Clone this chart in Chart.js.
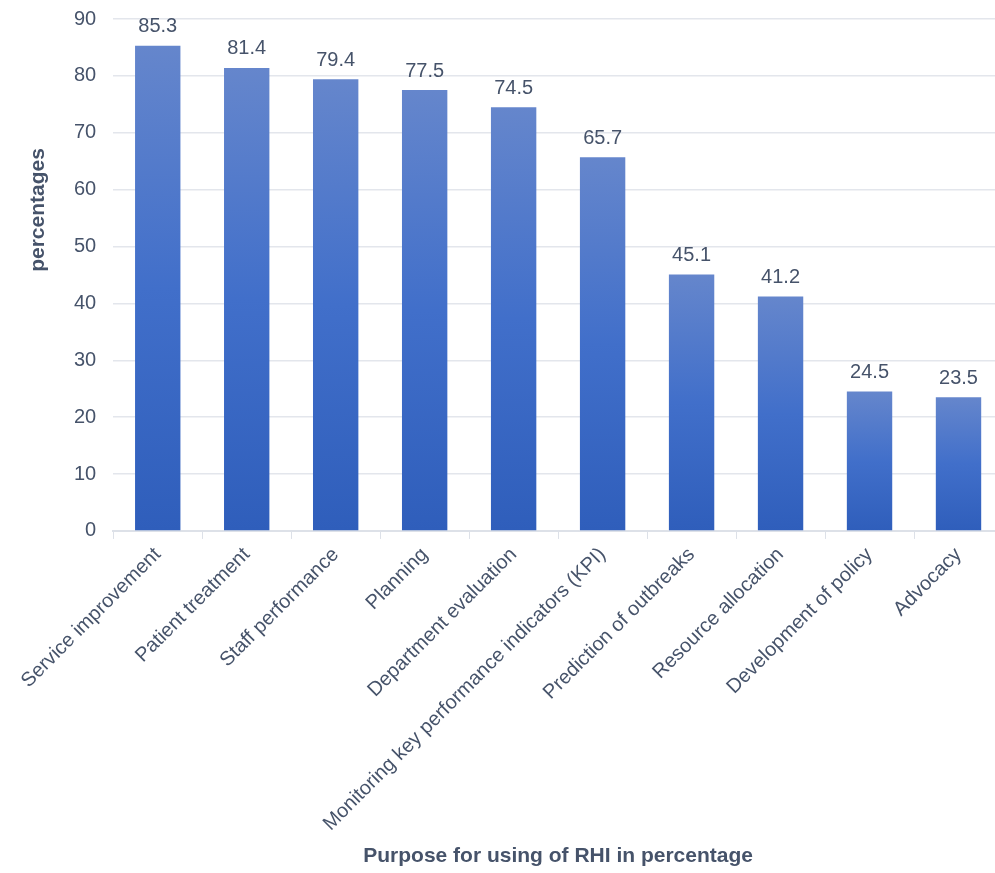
<!DOCTYPE html>
<html>
<head>
<meta charset="utf-8">
<script src="https://cdn.jsdelivr.net/npm/chart.js@4"></script>
<style>
  html, body { margin: 0; padding: 0; background: #fff; overflow: hidden; }
  #wrap { width: 1003px; height: 873px; }
</style>
</head>
<body>
<div id="wrap"><canvas id="myChart"></canvas></div>
<script>
// categories and values
var categories = ['Service improvement', 'Patient treatment', 'Staff performance', 'Planning',
  'Department evaluation', 'Monitoring key performance indicators (KPI)', 'Prediction of outbreaks',
  'Resource allocation', 'Development of policy', 'Advocacy']
var percents = [85.3, 81.4, 79.4, 77.5, 74.5, 65.7, 45.1, 41.2, 24.5, 23.5]
var yTicks = [0, 10, 20, 30, 40, 50, 60, 70, 80, 90]

var textColor = '#46536a'
var fontName = '"Liberation Sans", Arial, sans-serif'

// gradient per bar, lighter on top
function barFill(context) {
    var chart = context.chart
    var y = chart.scales.y
    if (!y || !chart.chartArea) return '#4570c8'
    var top = y.getPixelForValue(context.raw)
    var bottom = y.getPixelForValue(0)
    var g = chart.ctx.createLinearGradient(0, top, 0, bottom)
    g.addColorStop(0, '#6586cc')
    g.addColorStop(0.5, '#416fca')
    g.addColorStop(1, '#2f5ebb')
    return g
}

// value labels above the bars + y axis title (sits above the middle in the original)
var extraText = {
    id: 'extraText',
    afterDatasetsDraw(chart) {
        var ctx = chart.ctx
        var meta = chart.getDatasetMeta(0)
        ctx.save()
        ctx.font = '20px ' + fontName
        ctx.fillStyle = textColor
        ctx.textAlign = 'center'
        ctx.textBaseline = 'bottom'
        meta.data.forEach((bar, i) => {
            ctx.fillText(percents[i].toFixed(1), bar.x, bar.y - 9)
        })
        ctx.translate(38, 210)
        ctx.rotate(-Math.PI / 2)
        ctx.textBaseline = 'middle'
        ctx.font = 'bold 21px ' + fontName
        ctx.fillText('percentages', 0, 0)
        ctx.restore()
    }
}

var ctx = document.getElementById('myChart').getContext('2d')
var myChart = new Chart(ctx, {
    type: 'bar',
    data: {
        labels: categories,
        datasets: [{
            data: percents,
            backgroundColor: barFill,
            barPercentage: 0.51,
            categoryPercentage: 1
        }]
    },
    plugins: [extraText],
    options: {
        responsive: true,
        maintainAspectRatio: false,
        animation: false,
        layout: { padding: { top: 0, right: 0, left: 57, bottom: 0 } },
        plugins: {
            legend: { display: false },
            tooltip: { enabled: false }
        },
        scales: {
            x: {
                grid: {
                    offset: true,
                    drawOnChartArea: false,
                    tickLength: 8,
                    color: '#dde1e8'
                },
                border: { color: '#dde1e8', width: 2 },
                ticks: {
                    color: textColor,
                    font: { size: 20, family: fontName },
                    maxRotation: 45,
                    minRotation: 45,
                    padding: 4
                },
                title: {
                    display: true,
                    text: 'Purpose for using of RHI in percentage',
                    color: textColor,
                    font: { size: 21, weight: 'bold', family: fontName },
                    padding: { top: 4 }
                }
            },
            y: {
                min: 0,
                max: 90,
                afterBuildTicks: (axis) => { axis.ticks = yTicks.map(v => ({ value: v })) },
                // tick padding would otherwise push the top of the plot down
                afterFit: (axis) => { axis.paddingTop = 19; axis.paddingBottom = 12 },
                grid: { color: '#e3e6ec', lineWidth: 1.5, drawTicks: false },
                border: { display: false },
                ticks: {
                    color: textColor,
                    font: { size: 20, family: fontName },
                    padding: 17
                }
            }
        }
    }
})
</script>
</body>
</html>
